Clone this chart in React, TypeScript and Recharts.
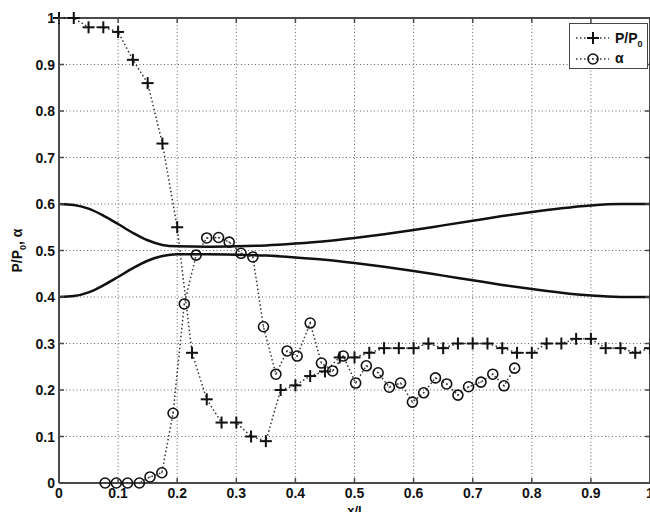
import React from 'react';
import { ComposedChart, Line, XAxis, YAxis, CartesianGrid, ReferenceLine } from 'recharts';

// pressure ratio P/P0 along x/l
const pX = [0, 0.025, 0.05, 0.075, 0.1, 0.125, 0.15, 0.175, 0.2, 0.225, 0.25, 0.275, 0.3, 0.325, 0.35, 0.375, 0.4, 0.425, 0.45, 0.475, 0.5, 0.525, 0.55, 0.575, 0.6, 0.625, 0.65, 0.675, 0.7, 0.725, 0.75, 0.775, 0.8, 0.825, 0.85, 0.875, 0.9, 0.925, 0.95, 0.975, 1.0];
const pRatio = [1, 1, 0.98, 0.98, 0.97, 0.91, 0.86, 0.73, 0.55, 0.28, 0.18, 0.13, 0.13, 0.1, 0.09, 0.2, 0.21, 0.23, 0.24, 0.27, 0.27, 0.28, 0.29, 0.29, 0.29, 0.3, 0.29, 0.3, 0.3, 0.3, 0.29, 0.28, 0.28, 0.3, 0.3, 0.31, 0.31, 0.29, 0.29, 0.28, 0.29];

// void fraction alpha
const alphaX = [0.078, 0.097, 0.116, 0.136, 0.154, 0.174, 0.193, 0.212, 0.232, 0.25, 0.27, 0.288, 0.308, 0.328, 0.346, 0.367, 0.386, 0.403, 0.425, 0.444, 0.463, 0.481, 0.502, 0.52, 0.54, 0.559, 0.578, 0.598, 0.617, 0.637, 0.656, 0.675, 0.693, 0.714, 0.734, 0.753, 0.771];
const alphaVals = [0, 0, 0, 0, 0.013, 0.022, 0.15, 0.385, 0.49, 0.527, 0.528, 0.518, 0.494, 0.486, 0.336, 0.234, 0.284, 0.273, 0.344, 0.258, 0.241, 0.273, 0.215, 0.252, 0.237, 0.206, 0.215, 0.174, 0.194, 0.226, 0.213, 0.189, 0.207, 0.217, 0.234, 0.209, 0.247];

// nozzle walls
const wallX = [0, 0.025, 0.05, 0.075, 0.1, 0.125, 0.15, 0.175, 0.2, 0.25, 0.3, 0.35, 0.4, 0.45, 0.5, 0.55, 0.6, 0.65, 0.7, 0.75, 0.8, 0.85, 0.9, 0.95, 1.0];
const wallUpper = [0.6, 0.598, 0.59, 0.575, 0.557, 0.538, 0.522, 0.512, 0.509, 0.508, 0.509, 0.511, 0.515, 0.52, 0.527, 0.535, 0.544, 0.554, 0.564, 0.574, 0.583, 0.591, 0.597, 0.6, 0.6];
const wallLower = [0.4, 0.402, 0.41, 0.425, 0.443, 0.462, 0.478, 0.488, 0.492, 0.492, 0.491, 0.489, 0.485, 0.48, 0.473, 0.465, 0.456, 0.446, 0.436, 0.426, 0.417, 0.409, 0.403, 0.4, 0.4];

const xTicks = [0, 0.1, 0.2, 0.3, 0.4, 0.5, 0.6, 0.7, 0.8, 0.9, 1];
const yTicks = [0, 0.1, 0.2, 0.3, 0.4, 0.5, 0.6, 0.7, 0.8, 0.9, 1];

const pData = pX.map((x, i) => ({ x, v: pRatio[i] }));
const alphaData = alphaX.map((x, i) => ({ x, v: alphaVals[i] }));
const upperData = wallX.map((x, i) => ({ x, v: wallUpper[i] }));
const lowerData = wallX.map((x, i) => ({ x, v: wallLower[i] }));

const TOP = 18;
const BOTTOM = 483;
const LEFT = 59;
const RIGHT = 650;
const FONT = '"Liberation Sans", Arial, Helvetica, sans-serif';
const AXIS = '#4a4a4a';

const fmt = (v: number) => String(+v.toFixed(1));

const XTick = (props: any) => {
  const { x, y, payload } = props;
  return (
    <g>
      <line x1={x} x2={x} y1={BOTTOM} y2={BOTTOM - 5} stroke={AXIS} strokeWidth={1.5} />
      <line x1={x} x2={x} y1={TOP} y2={TOP + 5} stroke={AXIS} strokeWidth={1.5} />
      <text x={x} y={y} dy="0.71em" textAnchor="middle" fontFamily={FONT} fontWeight="bold" fontSize={14} fill="#111">
        {fmt(payload.value)}
      </text>
    </g>
  );
};

const YTick = (props: any) => {
  const { x, y, payload } = props;
  return (
    <g>
      <line x1={LEFT} x2={LEFT + 5} y1={y} y2={y} stroke={AXIS} strokeWidth={1.5} />
      <line x1={RIGHT} x2={RIGHT - 5} y1={y} y2={y} stroke={AXIS} strokeWidth={1.5} />
      <text x={x} y={y} dy="0.36em" textAnchor="end" fontFamily={FONT} fontWeight="bold" fontSize={14} fill="#111">
        {fmt(payload.value)}
      </text>
    </g>
  );
};

const PlusDot = (props: any) => {
  const { cx, cy } = props;
  if (cx == null || cy == null) return null;
  return (
    <g>
      <line x1={cx - 6} x2={cx + 6} y1={cy} y2={cy} stroke="#111" strokeWidth={2} />
      <line x1={cx} x2={cx} y1={cy - 6} y2={cy + 6} stroke="#111" strokeWidth={2} />
    </g>
  );
};

const CircleDot = (props: any) => {
  const { cx, cy } = props;
  if (cx == null || cy == null) return null;
  return (
    <g>
      <circle cx={cx} cy={cy} r={5} fill="none" stroke="#111" strokeWidth={1.6} />
      <circle cx={cx} cy={cy} r={0.8} fill="#333" />
    </g>
  );
};

const YLabel = () => (
  <text
    transform={`translate(22, ${(TOP + BOTTOM) / 2}) rotate(-90)`}
    textAnchor="middle"
    fontFamily={FONT}
    fontWeight="bold"
    fontSize={14}
    fill="#111"
  >
    P/P<tspan dy={4} fontSize={9}>0</tspan><tspan dy={-4}>, α</tspan>
  </text>
);

const XLabel = () => (
  <text x={(LEFT + RIGHT) / 2} y={515} textAnchor="middle" fontFamily={FONT} fontWeight="bold" fontSize={13} fill="#111">
    x/l
  </text>
);

const dotted = '1.5 2.5';

export default function App() {
  return (
    <div style={{ position: 'absolute', left: 0, top: 0, width: 650, height: 512, overflow: 'hidden', background: '#fff' }}>
      <ComposedChart width={670} height={530} margin={{ top: TOP, right: 670 - RIGHT, left: 0, bottom: 7 }}>
        <CartesianGrid stroke="#666" strokeDasharray="1 2.5" strokeWidth={1} />
        <XAxis
          dataKey="x"
          type="number"
          domain={[0, 1]}
          ticks={xTicks}
          height={40}
          tickSize={0}
          tickMargin={5}
          tick={<XTick />}
          stroke={AXIS}
          strokeWidth={2}
          label={{ content: <XLabel /> }}
        />
        <YAxis
          type="number"
          domain={[0, 1]}
          ticks={yTicks}
          width={LEFT}
          tickSize={0}
          tickMargin={4}
          tick={<YTick />}
          stroke={AXIS}
          strokeWidth={2}
          label={{ content: <YLabel /> }}
        />
        <ReferenceLine y={1} stroke={AXIS} strokeWidth={2} />
        <ReferenceLine x={1} stroke={AXIS} strokeWidth={2} />
        <Line data={upperData} dataKey="v" type="monotone" stroke="#111" strokeWidth={2.5} dot={false} isAnimationActive={false} />
        <Line data={lowerData} dataKey="v" type="monotone" stroke="#111" strokeWidth={2.5} dot={false} isAnimationActive={false} />
        <Line data={pData} dataKey="v" type="linear" stroke="#333" strokeWidth={1.5} strokeDasharray={dotted} dot={<PlusDot />} isAnimationActive={false} />
        <Line data={alphaData} dataKey="v" type="linear" stroke="#333" strokeWidth={1.5} strokeDasharray={dotted} dot={<CircleDot />} isAnimationActive={false} />
      </ComposedChart>
      <div style={{ position: 'absolute', left: 569, top: 23, width: 77, height: 44, border: '1.5px solid #444', background: '#fff' }}>
        <svg width={77} height={44}>
          <line x1={6} x2={39} y1={14} y2={14} stroke="#333" strokeWidth={1.5} strokeDasharray={dotted} />
          <PlusDot cx={23} cy={14} />
          <text x={45} y={19} fontFamily={FONT} fontWeight="bold" fontSize={14} fill="#111">
            P/P<tspan dy={4} fontSize={9}>0</tspan>
          </text>
          <line x1={6} x2={39} y1={35} y2={35} stroke="#333" strokeWidth={1.5} strokeDasharray={dotted} />
          <CircleDot cx={23} cy={35} />
          <text x={45} y={39} fontFamily={FONT} fontWeight="bold" fontSize={14} fill="#111">
            α
          </text>
        </svg>
      </div>
    </div>
  );
}
